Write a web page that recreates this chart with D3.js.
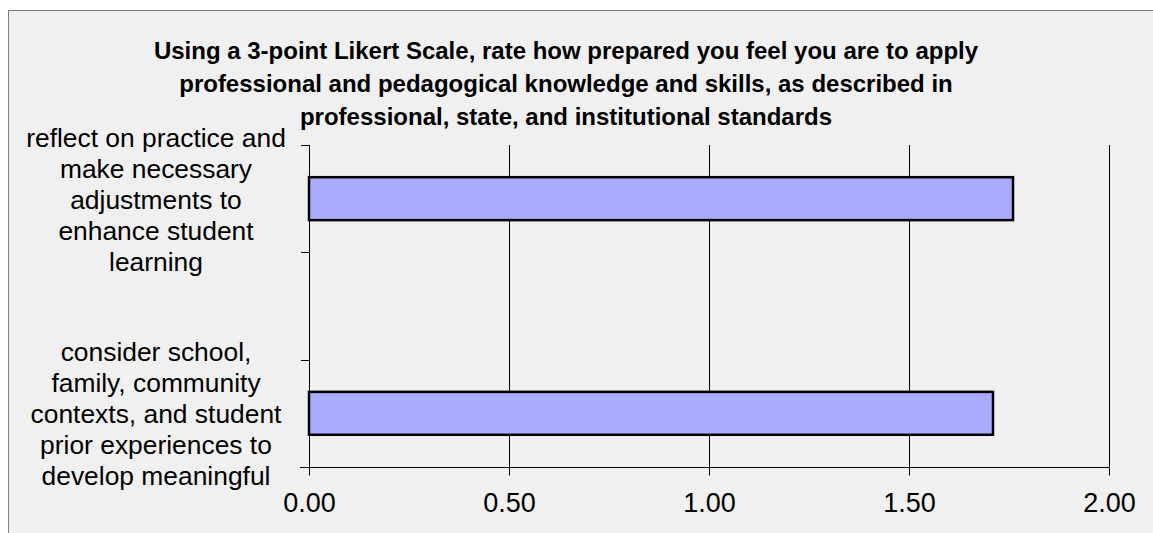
<!DOCTYPE html>
<html>
<head>
<meta charset="utf-8">
<script src="https://cdn.jsdelivr.net/npm/d3@7"></script>
<style>
  html, body { margin: 0; padding: 0; background: #ffffff; overflow: hidden; }
  svg { display: block; }
  text { font-family: "Liberation Sans", Arial, sans-serif; fill: #000; }
</style>
</head>
<body>
<div id="chart"></div>
<script>
// chart data
var titleLines = [
    "Using a 3-point Likert Scale, rate how prepared you feel you are to apply",
    "professional and pedagogical knowledge and skills, as described in",
    "professional, state, and institutional standards"
];
var categories = [
    "reflect on practice and make necessary adjustments to enhance student learning",
    "",
    "consider school, family, community contexts, and student prior experiences to develop meaningful learning experiences"
];
var values = [1.76, null, 1.71];
var tickValues = [0, 0.5, 1, 1.5, 2];

var width = 1153, height = 533,
    margin = { top: 145, right: 44, bottom: 66, left: 309 },
    labelCenter = 156,
    labelWidth = 270,
    maxLines = 5;

var svg = d3.select("#chart").append("svg")
    .attr("width", width)
    .attr("height", height);

// chart frame (runs off the right and bottom edges)
svg.append("rect")
    .attr("x", 8.5).attr("y", 10.5)
    .attr("width", width + 20).attr("height", height + 20)
    .attr("fill", "#f0f0f0")
    .attr("stroke", "#7f7f7f")
    .attr("stroke-width", 1);

var x = d3.scaleLinear().domain([0, 2]).range([margin.left, width - margin.right]);
var y = d3.scaleBand().domain(d3.range(categories.length))
    .range([margin.top, height - margin.bottom])
    .paddingInner(0.6).paddingOuter(0.3);

// title
svg.append("g").selectAll("text").data(titleLines).enter().append("text")
    .attr("x", 566)
    .attr("y", function(d, i) { return 59 + i * 33; })
    .attr("text-anchor", "middle")
    .attr("font-size", 24)
    .attr("font-weight", "bold")
    .text(function(d) { return d; });

// vertical gridlines
svg.append("g").selectAll("line").data(tickValues.slice(1)).enter().append("line")
    .attr("x1", function(d) { return Math.round(x(d)) + 0.5; })
    .attr("x2", function(d) { return Math.round(x(d)) + 0.5; })
    .attr("y1", margin.top).attr("y2", height - margin.bottom)
    .attr("stroke", "#000").attr("stroke-width", 1);

// bars
svg.append("g").selectAll("rect").data(values.map(function(v, i) { return { i: i, v: v }; })).enter()
    .filter(function(d) { return d.v != null; })
    .append("rect")
    .attr("x", x(0))
    .attr("y", function(d) { return y(d.i); })
    .attr("width", function(d) { return x(d.v) - x(0); })
    .attr("height", y.bandwidth())
    .attr("fill", "#aaaaff")
    .attr("stroke", "#000")
    .attr("stroke-width", 2.5);

// x axis
var xAxis = d3.axisBottom(x).tickValues(tickValues)
    .tickFormat(d3.format(".2f"))
    .tickSizeInner(8).tickSizeOuter(0).tickPadding(17);
var gx = svg.append("g")
    .attr("transform", "translate(0," + (Math.round(height - margin.bottom) + 0.5) + ")")
    .call(xAxis);
gx.select(".domain").attr("d", "M" + (x(0) - 9) + ",0H" + x(2));
gx.selectAll("line").attr("stroke", "#000");
gx.selectAll("text").attr("font-size", 27).attr("font-family", null);

// y axis line + ticks at band edges
var yEdges = d3.range(categories.length + 1).map(function(i) {
    return margin.top + i * (height - margin.top - margin.bottom) / categories.length;
});
var gy = svg.append("g");
gy.append("line")
    .attr("x1", x(0) + 0.5).attr("x2", x(0) + 0.5)
    .attr("y1", margin.top).attr("y2", height - margin.bottom + 8)
    .attr("stroke", "#000");
gy.selectAll(".tick").data(yEdges).enter().append("line")
    .attr("x1", x(0) - 8).attr("x2", x(0))
    .attr("y1", function(d) { return Math.round(d) + 0.5; })
    .attr("y2", function(d) { return Math.round(d) + 0.5; })
    .attr("stroke", "#000");

// category labels, wrapped and clipped to a few lines
var labels = svg.append("g");
categories.forEach(function(label, i) {
    if (!label) return;
    var t = labels.append("text")
        .attr("text-anchor", "middle")
        .attr("font-size", 26.4);
    var words = label.split(" "), lines = [], line = [];
    words.forEach(function(w) {
        line.push(w);
        t.text(line.join(" "));
        if (t.node().getComputedTextLength() > labelWidth && line.length > 1) {
            line.pop();
            lines.push(line.join(" "));
            line = [w];
        }
    });
    if (line.length) lines.push(line.join(" "));
    lines = lines.slice(0, maxLines);
    t.text(null);
    var lh = 31, cy = y(i) + y.bandwidth() / 2;
    var y0 = cy - (lines.length - 1) * lh / 2 + 10;
    lines.forEach(function(l, j) {
        t.append("tspan").attr("x", labelCenter).attr("y", y0 + j * lh).text(l);
    });
});
</script>
</body>
</html>
